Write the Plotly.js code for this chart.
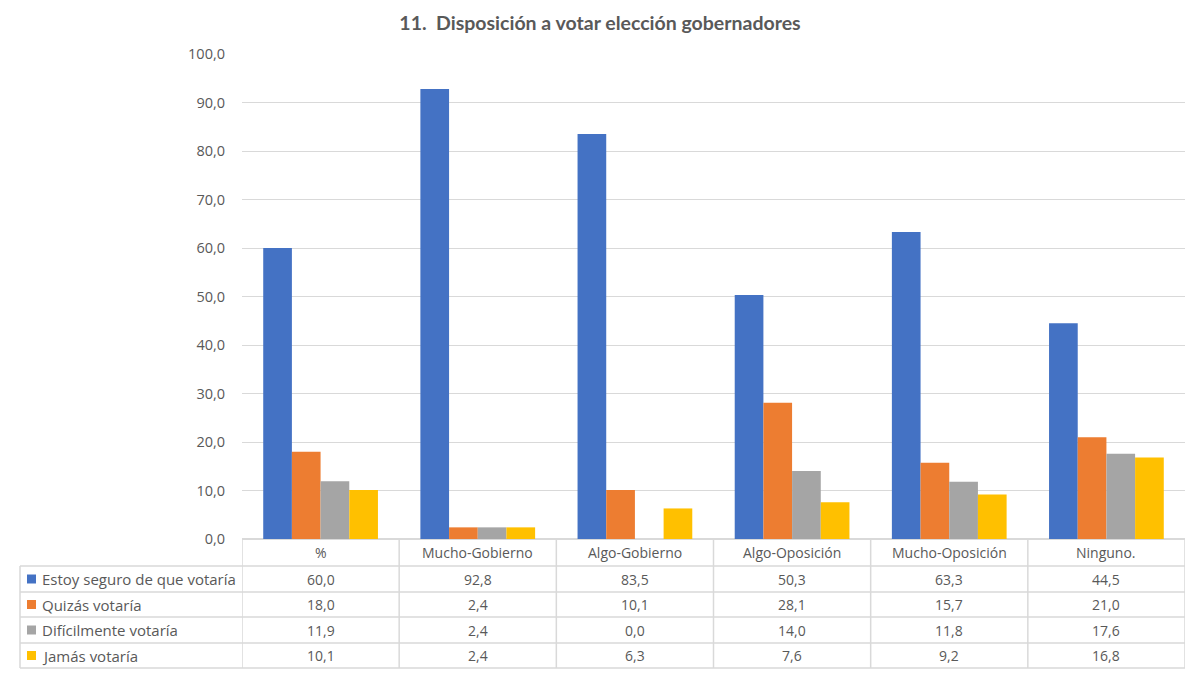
<!DOCTYPE html>
<html><head><meta charset="utf-8">
<script src="https://cdn.plot.ly/plotly-3.0.1.min.js"></script>
<style>html,body{margin:0;padding:0;background:#fff}#chart{width:1200px;height:675px}</style>
</head><body><div id="chart"></div>
<script>
const categories = ["%", "Mucho-Gobierno", "Algo-Gobierno", "Algo-Oposición", "Mucho-Oposición", "Ninguno."];
const seriesNames = ["Estoy seguro de que votaría", "Quizás votaría", "Difícilmente votaría", "Jamás votaría"];
const seguro = [60.0, 92.8, 83.5, 50.3, 63.3, 44.5];
const quizas = [18.0, 2.4, 10.1, 28.1, 15.7, 21.0];
const dificil = [11.9, 2.4, 0.0, 14.0, 11.8, 17.6];
const jamas = [10.1, 2.4, 6.3, 7.6, 9.2, 16.8];
const yTicks = [0, 10, 20, 30, 40, 50, 60, 70, 80, 90, 100];

const seriesValues = [seguro, quizas, dificil, jamas];
const colors = ["#4472C4", "#ED7D31", "#A5A5A5", "#FFC000"];

// layout geometry (pixels)
const W = 1200, H = 675;
const L = 242, R = 1185, T = 54, B = 539;
const pw = R - L, ph = B - T;
const px = x => (x - L) / pw;
const py = y => (B - y) / ph;
const tableLeft = 20;
const rowLines = [566, 592, 617, 643, 668];
const tableBottom = 668;
const headerCenter = 552.5;
const rowCenters = [579, 604.5, 630, 655.5];
const gridCol = "#D9D9D9";
const textCol = "#595959";
const FONT = "'Open Sans', sans-serif";
const TFONT = "Lato, sans-serif";

const fmt = v => v.toFixed(1).replace('.', ',');

const traces = seriesValues.map((vals, i) => ({
  type: 'bar',
  name: seriesNames[i],
  x: categories.map((c, k) => k),
  y: vals,
  marker: {color: colors[i]},
  hoverinfo: 'y'
}));

const shapes = [];
const annotations = [];
for (let k = 0; k <= categories.length; k++) {
  shapes.push({type: 'line', xref: 'x', yref: 'paper', x0: k - 0.5, x1: k - 0.5,
    y0: py(tableBottom), y1: 0, line: {color: gridCol, width: 1.5}});
}
shapes.push({type: 'line', xref: 'paper', yref: 'paper', x0: px(tableLeft), x1: px(tableLeft),
  y0: py(tableBottom), y1: py(rowLines[0]), line: {color: gridCol, width: 1.5}});
rowLines.forEach(y => {
  shapes.push({type: 'line', xref: 'paper', yref: 'paper', x0: px(tableLeft), x1: 1,
    y0: py(y), y1: py(y), line: {color: gridCol, width: 1.5}});
});
categories.forEach((c, k) => {
  annotations.push({xref: 'x', yref: 'paper', x: k, y: py(headerCenter), text: c,
    showarrow: false, xanchor: 'center', yanchor: 'middle', font: {family: FONT, size: 14, color: textCol}});
});
seriesValues.forEach((vals, i) => {
  const yc = py(rowCenters[i]);
  shapes.push({type: 'rect', xref: 'paper', yref: 'paper', x0: px(27), x1: px(36),
    y0: yc - 4.5 / ph, y1: yc + 4.5 / ph, fillcolor: colors[i], line: {width: 0}});
  annotations.push({xref: 'paper', yref: 'paper', x: px(40), y: yc, text: seriesNames[i],
    showarrow: false, xanchor: 'left', yanchor: 'middle', font: {family: FONT, size: 15, color: textCol}});
  vals.forEach((v, k) => {
    annotations.push({xref: 'x', yref: 'paper', x: k, y: yc, text: fmt(v),
      showarrow: false, xanchor: 'center', yanchor: 'middle', font: {family: FONT, size: 14, color: textCol}});
  });
});

const layout = {
  width: W, height: H,
  margin: {l: L, r: W - R, t: T, b: H - B},
  paper_bgcolor: '#fff', plot_bgcolor: '#fff',
  separators: ', ',
  barmode: 'group', bargap: 0.27, bargroupgap: 0,
  showlegend: false,
  title: {text: '<b>11.  Disposición a votar elección gobernadores</b>', x: 0.5, xanchor: 'center',
    y: 1 - 23 / H, yanchor: 'middle', font: {family: TFONT, size: 19.5, color: textCol}},
  xaxis: {range: [-0.5, categories.length - 0.5], showticklabels: false, showgrid: false,
    zeroline: false, showline: false, ticks: '', fixedrange: true},
  yaxis: {range: [0, 100], tickvals: yTicks, tickformat: '.1f', showgrid: true, gridcolor: gridCol,
    gridwidth: 1, zeroline: true, zerolinecolor: gridCol, zerolinewidth: 1.5, showline: false, ticks: '',
    ticklabelstandoff: 16,
    tickfont: {family: FONT, size: 14.5, color: textCol}, fixedrange: true},
  shapes: shapes,
  annotations: annotations,
  font: {family: FONT, color: textCol}
};

Plotly.newPlot('chart', traces, layout, {displayModeBar: false, staticPlot: true});
</script>
</body></html>
